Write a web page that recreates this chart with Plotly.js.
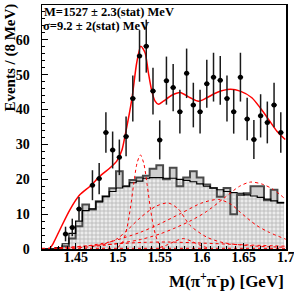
<!DOCTYPE html>
<html><head><meta charset="utf-8">
<script src="https://cdn.plot.ly/plotly-3.0.1.min.js"></script>
<style>html,body{margin:0;padding:0;background:#fff;}#chart{width:294px;height:294px;}</style>
</head><body><div id="chart"></div>
<script>
// ---- data points (8 MeV bins) ----
const ptX = [1.438,1.446,1.454,1.470,1.478,1.486,1.494,1.502,1.510,1.518,1.526,1.534,1.542,1.550,1.558,1.566,1.574,1.582,1.590,1.598,1.606,1.614,1.622,1.630,1.638,1.646,1.654,1.662,1.670,1.678,1.686,1.694];
const ptY = [4.3,6.2,11.5,18.3,20.2,33.4,28.4,26.3,32.3,43.2,55.4,58.2,45.3,31.3,48.3,46.3,39.4,50.4,41.3,39.4,47.4,49.3,48.4,43.2,39.4,49.3,37.3,31.4,38.2,36.3,41.3,33.4];
const ptErr = [2.1,2.5,3.4,4.3,4.5,5.8,5.3,5.1,5.7,6.6,7.4,7.6,6.7,5.6,6.9,6.8,6.3,7.1,6.4,6.3,6.9,7.0,7.0,6.6,6.3,7.0,6.1,5.6,6.2,6.0,6.4,5.8];

// ---- histograms ----
const binW = 0.008;
const hCenters = [1.414,1.422,1.430,1.438,1.446,1.454,1.462,1.470,1.478,1.486,1.494,1.502,1.510,1.518,1.526,1.534,1.542,1.550,1.558,1.566,1.574,1.582,1.590,1.598,1.606,1.614,1.622,1.630,1.638,1.646,1.654,1.662,1.670,1.678,1.686,1.694];
const histB = [0,0,0.3,1.5,4.5,8,11,11.5,13.5,15,16.5,17.5,18,19,19.5,20.3,20.5,20.5,20.3,20.3,20,19.7,19.3,18.7,18,17.5,17,16.5,16.2,16,15.5,15.2,14.8,14.3,13.8,13.3];
const histA = [0,0,0.3,0.8,3,6.5,12.8,11.3,13.7,15.1,17.4,22.3,18,19.8,20.5,21,23,24,20,23.3,18,20.5,22.3,20.5,18.5,17.5,15,17.5,10,15.5,16,18,18,14,17,13.3];

// ---- fit curves ----
const totX = [1.4195,1.4231,1.4314,1.4433,1.4552,1.4671,1.479,1.491,1.4989,1.5050,1.5088,1.5168,1.5227,1.5275,1.5326,1.5365,1.5406,1.5445,1.5485,1.5544,1.5644,1.5743,1.5862,1.5961,1.6061,1.618,1.6338,1.6457,1.6596,1.6695,1.6794,1.6894,1.6993];
const totY = [0.2,1.5,5.6,11.3,15.6,18,20.9,23.3,25.2,28.3,32.5,42.9,53.5,58.2,56.3,50.6,45.3,42.4,41.5,42.4,44.1,44.9,43.4,42.4,43.4,44.9,45.8,45.3,43.4,40.5,37.2,33.8,31.4];
const sigX = [1.500,1.506,1.511,1.515,1.519,1.523,1.527,1.531,1.535,1.539,1.543,1.548,1.554];
const sigY = [0.4,2.0,6.0,11.5,18.5,24.6,27,24.6,18.5,11.5,6.0,2.0,0.4];
const c2X = [1.47,1.485,1.499,1.511,1.527,1.545,1.560,1.572,1.586,1.606,1.626,1.66,1.70];
const c2Y = [0.8,1.5,2.9,5.3,9.0,12.2,13.2,11.5,6.8,3.4,1.8,0.9,0.5];
const c3X = [1.55,1.56,1.568,1.578,1.588,1.596,1.606];
const c3Y = [0.4,1.3,2.2,3.0,2.2,1.3,0.4];
const c4X = [1.43,1.46,1.49,1.527,1.55,1.575,1.60,1.62,1.635,1.646,1.665,1.68,1.70];
const c4Y = [0.2,0.8,2.0,4.8,7.2,10.2,13.2,14.2,12.8,10.5,6.8,4.8,2.8];
const c5X = [1.44,1.47,1.50,1.527,1.55,1.566,1.586,1.606,1.626,1.645,1.658,1.672,1.685,1.70];
const c5Y = [0.2,0.7,1.6,2.7,4.3,5.8,8.0,10.8,14.5,18,19.2,18.6,17.1,14.2];
const c6X = [1.41,1.44,1.47,1.50,1.53,1.56,1.60,1.65,1.70];
const c6Y = [0.1,0.5,1.0,1.5,1.9,2.0,1.7,1.2,0.8];
const c7X = [1.41,1.70];
const c7Y = [0.2,0.2];

// ---- ticks ----
const xTickVals = [1.45,1.5,1.55,1.6,1.65,1.7];
const xTickText = ['1.45','1.5','1.55','1.6','1.65','1.7'];
const yTickVals = [0,10,20,30,40,50,60,70];
const yTickText = ['0','10','20','30','40','50','60','70'];

const edges = hCenters.map(c => c - binW/2).concat([hCenters[hCenters.length-1] + binW/2]);
const stepY = arr => arr.concat([arr[arr.length-1]]);

const traces = [];
traces.push({type:'bar', x:hCenters, y:histB, width:binW, hoverinfo:'skip',
  marker:{color:'#e4e4e4', line:{width:0}, pattern:{shape:'+', size:4, solidity:0.35, fgcolor:'#b4b4b4', bgcolor:'#ececec', fillmode:'replace'}}});
traces.push({type:'bar', x:hCenters, y:histA.map((a,i)=>Math.max(a-histB[i],0)), base:histB, width:binW, hoverinfo:'skip',
  marker:{color:'#cfcfcf', line:{width:0}}});
traces.push({type:'scatter', mode:'lines', x:edges, y:stepY(histA), line:{shape:'hv', color:'#4a4a4a', width:2}, hoverinfo:'skip'});
traces.push({type:'scatter', mode:'lines', x:edges, y:stepY(histB), line:{shape:'hv', color:'#000', width:1.2}, hoverinfo:'skip'});
const dotted = {color:'#ff0000', width:1, dash:'dot', shape:'spline', smoothing:0.8};
[[c7X,c7Y],[c6X,c6Y],[c5X,c5Y],[c4X,c4Y],[c3X,c3Y],[c2X,c2Y],[sigX,sigY]].forEach(([x,y])=>{
  traces.push({type:'scatter', mode:'lines', x:x, y:y, line:dotted, hoverinfo:'skip'});
});
traces.push({type:'scatter', mode:'lines', x:totX, y:totY, line:{color:'#ff0000', width:1.5, shape:'spline', smoothing:0.7}, hoverinfo:'skip'});
traces.push({type:'scatter', mode:'markers', x:ptX, y:ptY,
  marker:{color:'#000', size:5, symbol:'circle'},
  error_y:{type:'data', array:ptErr, visible:true, thickness:1.5, width:0, color:'#1a1a1a'},
  error_x:{type:'constant', value:0.0032, visible:true, thickness:1.5, width:0, color:'#000'}});

const axisCommon = {showgrid:false, zeroline:false, showline:true, linecolor:'#000', linewidth:1.5, mirror:true,
  ticks:'inside', tickcolor:'#000', tickwidth:1, tickmode:'array',
  tickfont:{family:'Liberation Serif', size:14, weight:'bold', color:'#000'}};

const layout = {
  width:294, height:294, margin:{l:42, r:8, t:5, b:45},
  paper_bgcolor:'#fff', plot_bgcolor:'#fff', showlegend:false, barmode:'overlay', bargap:0,
  font:{family:'Liberation Serif', color:'#000'},
  xaxis:Object.assign({}, axisCommon, {range:[1.41,1.7002], tickvals:xTickVals, ticktext:xTickText, ticklen:6, ticklabelstandoff:-5,
    ticklabeloverflow:'allow',
    minor:{ticks:'inside', ticklen:3, tickmode:'linear', tick0:1.41, dtick:0.01, tickcolor:'#000'}}),
  yaxis:Object.assign({}, axisCommon, {range:[0,70], tickvals:yTickVals, ticktext:yTickText, ticklen:6, ticklabelstandoff:8,
    minor:{ticks:'inside', ticklen:3, tickmode:'linear', tick0:0, dtick:2, tickcolor:'#000'}}),
  annotations:[
    {text:'M=1527 ± 2.3(stat) MeV', xref:'paper', yref:'paper', x:0.006, y:0.972, xanchor:'left', yanchor:'middle', showarrow:false, borderpad:0,
      font:{family:'Liberation Serif', size:12.5, weight:'bold', color:'#000'}},
    {text:'σ=9.2 ± 2(stat) MeV', xref:'paper', yref:'paper', x:0.002, y:0.913, xanchor:'left', yanchor:'middle', showarrow:false, borderpad:0,
      font:{family:'Liberation Serif', size:12.5, weight:'bold', color:'#000'}},
    {text:'Events / (8 MeV)', xref:'paper', yref:'paper', x:-0.13, y:1.015, xanchor:'center', yanchor:'top', textangle:-90, showarrow:false,
      font:{family:'Liberation Serif', size:15, weight:'bold', color:'#000'}},
    {text:'M(π<sup>+</sup>π<sup>-</sup>p) [GeV]', xref:'paper', yref:'paper', x:1.0, y:-0.125, xanchor:'right', yanchor:'middle', showarrow:false,
      font:{family:'Liberation Serif', size:17, weight:'bold', color:'#000'}}
  ]
};
Plotly.newPlot('chart', traces, layout, {staticPlot:true, displayModeBar:false});
</script></body></html>
